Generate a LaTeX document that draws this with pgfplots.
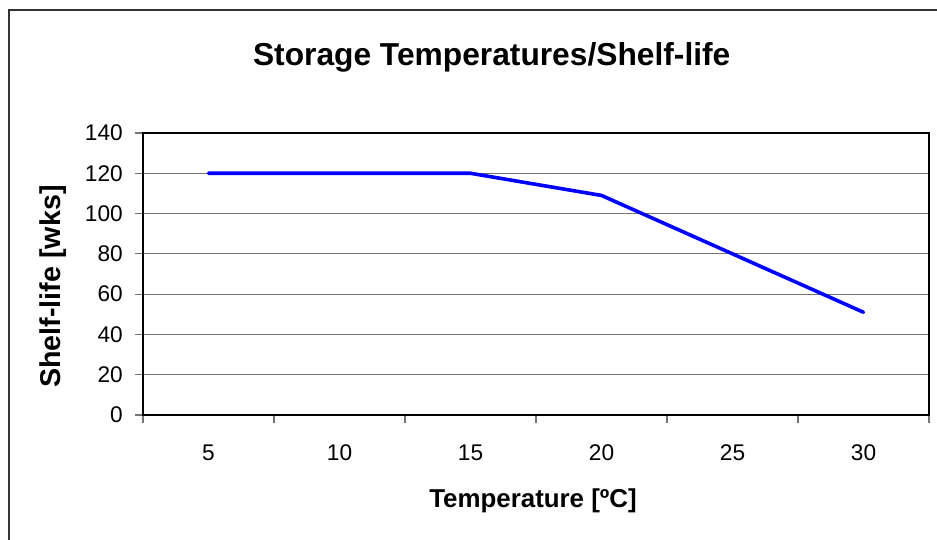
\documentclass[border=0pt]{standalone}
\usepackage{fontspec}
\setmainfont{Liberation Sans}
\usepackage{pgfplots}
\pgfplotsset{compat=1.18}
\begin{document}
\begin{tikzpicture}[x=0.75pt,y=0.75pt]
\useasboundingbox (0,0) rectangle (937,539);
\fill[white] (0,0) rectangle (937,539);
\draw[line width=0.9pt, black!80] (9,-5) -- (9,529) -- (945,529);
\begin{axis}[
  at={(107.25pt,93pt)}, anchor=south west,
  width=589.5pt, height=211.5pt, scale only axis,
  xmin=-0.5, xmax=5.5, ymin=0, ymax=140,
  ytick={0,20,...,140},
  xtick={0,1,2,3,4,5},
  xticklabels={5,10,15,20,25,30},
  minor xtick={-0.5,0.5,1.5,2.5,3.5,4.5,5.5},
  every major x tick/.append style={draw=none},
  tick align=outside, tick pos=left,
  major tick length=6pt, minor tick length=6pt,
  every tick/.append style={draw=gray!90!black, line width=0.8pt},
  axis line style={black, line width=1.5pt},
  ymajorgrids,
  major grid style={gray!90!black, line width=0.8pt},
  /pgf/number format/assume math mode=true,
  ticklabel style={font=\fontsize{17}{20}\selectfont},
  yticklabel style={anchor=east, inner sep=0pt, xshift=-15pt+6pt},
  xticklabel style={anchor=north, inner sep=0pt, yshift=-22pt+6pt},
]
\addplot[color={rgb,255:red,0;green,0;blue,255}, line width=2.7pt, line join=round, line cap=round]
  coordinates {(0,120) (1,120) (2,120) (3,109) (4,80) (5,51)};
\end{axis}
\node[font=\fontsize{23.8}{28}\selectfont\bfseries, anchor=base] at (491.7,473) {Storage Temperatures/Shelf-life};
\node[font=\fontsize{19.4}{23}\selectfont\bfseries, anchor=base] at (533,539-507.7) {Temperature [ºC]};
\node[font=\fontsize{21.5}{25}\selectfont\bfseries, rotate=90, anchor=center] at (53,539-286.5) {Shelf-life [wks]};
\end{tikzpicture}
\end{document}
